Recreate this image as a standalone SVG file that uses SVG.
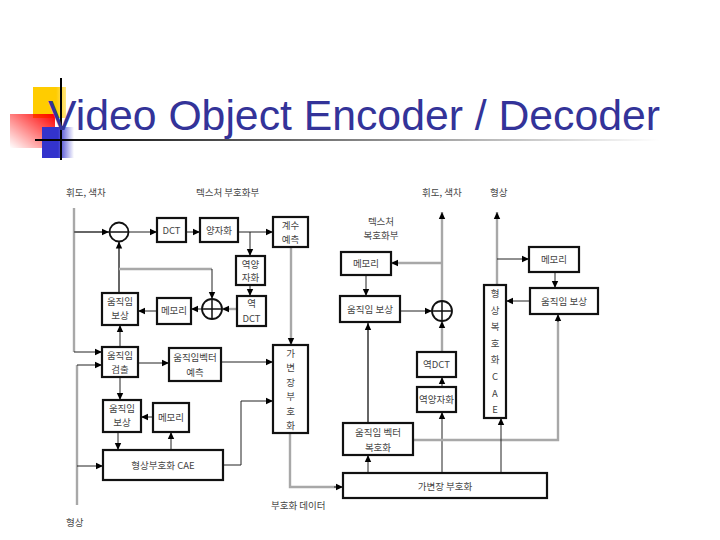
<svg xmlns="http://www.w3.org/2000/svg" width="720" height="540" viewBox="0 0 720 540">
<defs>
<linearGradient id="gY" x1="0" y1="0" x2="1" y2="0"><stop offset="0" stop-color="#FFCC00"/><stop offset="0.7" stop-color="#FFCC00"/><stop offset="1" stop-color="#FFE680"/></linearGradient>
<linearGradient id="gR" x1="1" y1="0" x2="0" y2="1"><stop offset="0" stop-color="#FF0000"/><stop offset="1" stop-color="#FF0000" stop-opacity="0"/></linearGradient>
<linearGradient id="gB" x1="0" y1="0" x2="1" y2="0"><stop offset="0" stop-color="#3333CC"/><stop offset="0.5" stop-color="#3333CC"/><stop offset="1" stop-color="#3333CC" stop-opacity="0"/></linearGradient>
<linearGradient id="gL" x1="0" y1="0" x2="1" y2="0"><stop offset="0" stop-color="#000"/><stop offset="1" stop-color="#000" stop-opacity="0"/></linearGradient>
<marker id="ah" markerUnits="userSpaceOnUse" markerWidth="8" markerHeight="8" refX="7" refY="4" orient="auto"><path d="M0,0.8 L7,4 L0,7.2 Z" fill="#000"/></marker>
</defs>
<style>
.box{fill:#fff;stroke:#111;stroke-width:2.2}
.t{font-family:"Noto Sans CJK KR","Liberation Sans",sans-serif;font-size:9.5px;fill:#444;text-anchor:middle}
.tl{font-family:"Noto Sans CJK KR","Liberation Sans",sans-serif;font-size:9.5px;fill:#444}
.ln{fill:none;stroke:#222;stroke-width:1;marker-end:url(#ah)}
.gr{fill:none;stroke:#a8a8a8;stroke-width:2.4}
.gra{fill:none;stroke:#a8a8a8;stroke-width:2.4;marker-end:url(#ah)}
.dg{fill:none;stroke:#666;stroke-width:2;marker-end:url(#ah)}
.op{fill:#fff;stroke:#111;stroke-width:1.8}
</style>
<g id="title-deco">
<rect x="33" y="87" width="33" height="31" fill="url(#gY)"/>
<rect x="10" y="114" width="45" height="34" fill="url(#gR)"/>
<rect x="42" y="127" width="32" height="31" fill="url(#gB)"/>
<rect x="35" y="139" width="625" height="2" fill="url(#gL)"/>
<rect x="60" y="78" width="2" height="82" fill="#000"/>
</g>
<text id="title" x="48" y="130" font-family="Liberation Sans, Arial, sans-serif" font-size="43" fill="#333399" textLength="612" lengthAdjust="spacingAndGlyphs">Video Object Encoder / Decoder</text>

<g id="labels">
<text class="tl" x="66" y="196">휘도, 색차</text>
<text class="tl" x="196" y="196">텍스처 부호화부</text>
<text class="tl" x="66" y="526">형상</text>
<text class="tl" x="271" y="509">부호화 데이터</text>
<text class="tl" x="422" y="196">휘도, 색차</text>
<text class="tl" x="490" y="196">형상</text>
<text class="t" x="381" y="225">텍스처</text>
<text class="t" x="381" y="239">복호화부</text>
</g>

<g id="connectors">
<path class="gr" d="M74,208 V352"/>
<path class="ln" d="M74,352 H102"/>
<path class="dg" d="M74,232 H109"/>
<path class="ln" d="M128.5,232 H157"/>
<path class="ln" d="M186,232 H200"/>
<path class="ln" d="M238,232 H273"/>
<path class="ln" d="M250,232 V256"/>
<path class="ln" d="M250,285 V296"/>
<path class="gra" d="M237,309 H222"/>
<path class="ln" d="M202,309 H191"/>
<path class="ln" d="M157,311 H138"/>
<path class="dg" d="M119,293 V241.5"/>
<path class="gr" d="M119,269 H212"/>
<path class="ln" d="M212,269 V299"/>
<path class="ln" d="M120,347 V325"/>
<path class="ln" d="M138,363 H169"/>
<path class="ln" d="M221,362 H273"/>
<path class="gra" d="M291,247 V345"/>
<path class="ln" d="M120,377 V400"/>
<path class="gr" d="M77,505 V365"/>
<path class="ln" d="M77,365 H102"/>
<path class="ln" d="M77,466 H103"/>
<path class="ln" d="M153,417 H141"/>
<path class="ln" d="M118,432 V450"/>
<path class="ln" d="M171,450 V432"/>
<path class="ln" d="M223,465 H241 V401 H273"/>
<path class="gr" d="M290,433 V487 H336"/>
<path class="ln" d="M334,487 H343"/>

<path class="gra" d="M442,301 V212"/>
<path class="gra" d="M442,263 H391"/>
<path class="ln" d="M366,275 V296"/>
<path class="ln" d="M400,311 H432"/>
<path class="gra" d="M442,352 V321"/>
<path class="ln" d="M442,387 V377"/>
<path class="ln" d="M442,473 V412"/>
<path class="ln" d="M368,473 V455"/>
<path class="dg" d="M368,423 V323"/>
<path class="gr" d="M413,440 H558 V320"/>
<path class="ln" d="M558,322 V314"/>
<path class="gra" d="M497,285 V212"/>
<path class="ln" d="M497,259 H529"/>
<path class="ln" d="M555,272 V288"/>
<path class="ln" d="M530,301 H506"/>
<path class="ln" d="M501,473 V418"/>
</g>

<g id="sub"><circle class="op" cx="119" cy="232" r="9.5"/><path d="M109.5,232 H128.5" stroke="#111" stroke-width="1.5"/></g>
<g id="add-enc"><circle class="op" cx="212" cy="309" r="10"/><path d="M202,309 H222 M212,299 V319" stroke="#111" stroke-width="1.5"/></g>
<g id="add-dec"><circle class="op" cx="442" cy="311" r="10"/><path d="M432,311 H452 M442,301 V321" stroke="#111" stroke-width="1.5"/></g>

<g id="dct"><rect class="box" x="157" y="218" width="29" height="24"/><text class="t" x="171.5" y="234">DCT</text></g>
<g id="quant"><rect class="box" x="200" y="218" width="38" height="24"/><text class="t" x="219" y="234">양자화</text></g>
<g id="coef"><rect class="box" x="273" y="217" width="35" height="30"/><text class="t" x="290.5" y="229">계수</text><text class="t" x="290.5" y="243">예측</text></g>
<g id="iquant"><rect class="box" x="236" y="256" width="29" height="29"/><text class="t" x="250.5" y="268">역양</text><text class="t" x="250.5" y="281">자화</text></g>
<g id="idct"><rect class="box" x="237" y="296" width="29" height="30"/><text class="t" x="251.5" y="307">역</text><text class="t" x="251.5" y="322">DCT</text></g>
<g id="mem1"><rect class="box" x="157" y="298" width="34" height="26"/><text class="t" x="174" y="314">메모리</text></g>
<g id="mc1"><rect class="box" x="102" y="293" width="36" height="32"/><text class="t" x="120" y="305">움직임</text><text class="t" x="120" y="319">보상</text></g>
<g id="me"><rect class="box" x="102" y="347" width="36" height="30"/><text class="t" x="120" y="359">움직임</text><text class="t" x="120" y="373">검출</text></g>
<g id="mvp"><rect class="box" x="169" y="348" width="52" height="33"/><text class="t" x="195" y="361">움직임벡터</text><text class="t" x="195" y="376">예측</text></g>
<g id="vlc-enc"><rect class="box" x="273" y="345" width="35" height="88"/>
<text class="t" x="290.5" y="357">가</text><text class="t" x="290.5" y="371">변</text><text class="t" x="290.5" y="386">장</text><text class="t" x="290.5" y="400">부</text><text class="t" x="290.5" y="415">호</text><text class="t" x="290.5" y="429">화</text></g>
<g id="mc2"><rect class="box" x="103" y="400" width="38" height="32"/><text class="t" x="122" y="412">움직임</text><text class="t" x="122" y="426">보상</text></g>
<g id="mem2"><rect class="box" x="153" y="403" width="36" height="29"/><text class="t" x="171" y="421">메모리</text></g>
<g id="cae-enc"><rect class="box" x="103" y="450" width="120" height="30"/><text class="t" x="163" y="469">형상부호화 CAE</text></g>

<g id="mem-dec"><rect class="box" x="341" y="252" width="50" height="23"/><text class="t" x="366" y="267">메모리</text></g>
<g id="mc-dec"><rect class="box" x="340" y="296" width="60" height="26"/><text class="t" x="370" y="313">움직임 보상</text></g>
<g id="idct-dec"><rect class="box" x="417" y="352" width="39" height="25"/><text class="t" x="436.5" y="368">역DCT</text></g>
<g id="iquant-dec"><rect class="box" x="417" y="387" width="39" height="25"/><text class="t" x="436.5" y="403">역양자화</text></g>
<g id="mvd"><rect class="box" x="343" y="423" width="70" height="32"/><text class="t" x="378" y="436">움직임 벡터</text><text class="t" x="378" y="451">복호화</text></g>
<g id="vld"><rect class="box" x="343" y="473" width="204" height="25"/><text class="t" x="445" y="490">가변장 부호화</text></g>
<g id="cae-dec"><rect class="box" x="484" y="285" width="22" height="133"/>
<text class="t" x="495" y="297">형</text><text class="t" x="495" y="314">상</text><text class="t" x="495" y="330">복</text><text class="t" x="495" y="347">호</text><text class="t" x="495" y="363">화</text><text class="t" x="495" y="380">C</text><text class="t" x="495" y="397">A</text><text class="t" x="495" y="413">E</text></g>
<g id="mem-dec2"><rect class="box" x="529" y="247" width="50" height="25"/><text class="t" x="554" y="263">메모리</text></g>
<g id="mc-dec2"><rect class="box" x="530" y="288" width="68" height="26"/><text class="t" x="564" y="305">움직임 보상</text></g>
</svg>
